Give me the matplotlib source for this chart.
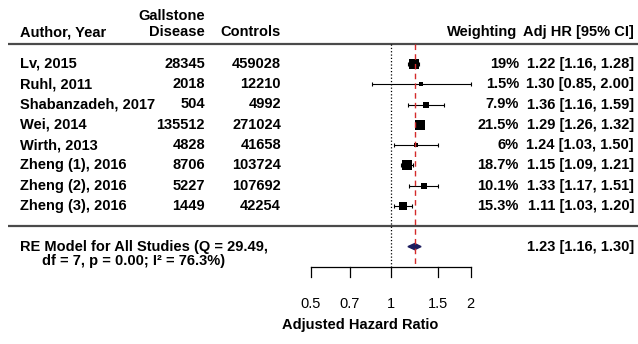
import matplotlib
matplotlib.use("Agg")
import matplotlib.pyplot as plt
import numpy as np

plt.rcParams['font.family'] = ['Liberation Sans', 'DejaVu Sans']

# study data
authors = ["Lv, 2015", "Ruhl, 2011", "Shabanzadeh, 2017", "Wei, 2014",
           "Wirth, 2013", "Zheng (1), 2016", "Zheng (2), 2016", "Zheng (3), 2016"]
cases = [28345, 2018, 504, 135512, 4828, 8706, 5227, 1449]
controls = [459028, 12210, 4992, 271024, 41658, 103724, 107692, 42254]
weights = [19, 1.5, 7.9, 21.5, 6, 18.7, 10.1, 15.3]
hr = [1.22, 1.30, 1.36, 1.29, 1.24, 1.15, 1.33, 1.11]
lo = [1.16, 0.85, 1.16, 1.26, 1.03, 1.09, 1.17, 1.03]
hi = [1.28, 2.00, 1.59, 1.32, 1.50, 1.21, 1.51, 1.20]

# pooled estimate
re_est, re_lo, re_hi = 1.23, 1.16, 1.30
re_q, re_df, re_p, re_i2 = 29.49, 7, 0.00, 76.3

xticks = [0.5, 0.7, 1, 1.5, 2]
xticklabels = ["0.5", "0.7", "1", "1.5", "2"]

W, H = 638, 344
fig = plt.figure(figsize=(W / 100, H / 100), dpi=100)
ax = fig.add_axes([0, 0, 1, 1])
ax.set_xscale('log')
ax.axis('off')

# map pixels -> log axis (0.5 at px 311, 2 at px 470.7)
ppd = (470.7 - 311) / (np.log10(2) - np.log10(0.5))
ax.set_xlim(10 ** (np.log10(0.5) - 311 / ppd), 10 ** (np.log10(2) + (W - 470.7) / ppd))
row_h = 20.3
y0 = 226.3
ax.set_ylim((y0 - H) / row_h, y0 / row_h)

tr = ax.get_yaxis_transform()
fs = 10.5
bold = dict(fontsize=fs, fontweight='bold', va='center', transform=tr)


def px(x):
    return x / W


k = len(authors)
rows = np.arange(k, 0, -1)

# header
ax.text(px(20), 9.57, "Author, Year", ha='left', **bold)
ax.text(px(205), 10.36, "Gallstone", ha='right', **bold)
ax.text(px(205), 9.57, "Disease", ha='right', **bold)
ax.text(px(281), 9.57, "Controls", ha='right', **bold)
ax.text(px(517), 9.57, "Weighting", ha='right', **bold)
ax.text(px(634), 9.57, "Adj HR [95% CI]", ha='right', **bold)

# separator lines
for r in (k + 1, 0):
    ax.plot([px(8), 1], [r, r], color='#4a4a4a', lw=1.6, transform=tr,
            solid_capstyle='butt')

# reference lines
ax.plot([1, 1], [k + 1, -2], color='black', ls=':', lw=0.9)
ax.plot([re_est, re_est], [k + 1, -2], color='#d42a2a', ls=(0, (4, 3)), lw=1.0, zorder=5)

# study rows
wmin, wmax = min(weights), max(weights)
for i in range(k):
    r = rows[i]
    ax.text(px(20), r, authors[i], ha='left', **bold)
    ax.text(px(205), r, str(cases[i]), ha='right', **bold)
    ax.text(px(281), r, str(controls[i]), ha='right', **bold)
    ax.text(px(519), r, f"{weights[i]:g}%", ha='right', **bold)
    ax.text(px(634), r, f"{hr[i]:.2f} [{lo[i]:.2f}, {hi[i]:.2f}]", ha='right', **bold)
    ax.errorbar(hr[i], r, xerr=[[hr[i] - lo[i]], [hi[i] - hr[i]]], fmt='none',
                ecolor='black', elinewidth=0.8, capsize=1.6, capthick=0.8)
    cex = 0.5 + (weights[i] - wmin) / (wmax - wmin)
    ax.plot(hr[i], r, 's', color='black', ms=7.2 * cex / 1.5, mew=0)

# summary
ax.fill([re_lo, re_est, re_hi, re_est], [-1, -0.85, -1, -1.15], color='#1c1c5e', zorder=4)
ax.text(px(20), -1, f"RE Model for All Studies (Q = {re_q:.2f},", ha='left', **bold)
ax.text(px(42), -1.71, f"df = {re_df}, p = {re_p:.2f}; I\u00b2 = {re_i2}%)", ha='left', **bold)
ax.text(px(634), -1, f"{re_est:.2f} [{re_lo:.2f}, {re_hi:.2f}]", ha='right', **bold)

# x axis
ax.plot([xticks[0], xticks[-1]], [-2, -2], color='black', lw=0.9)
for t, lab in zip(xticks, xticklabels):
    ax.plot([t, t], [-2, -2.5], color='black', lw=0.9)
    ax.text(t, -3.83, lab, ha='center', va='center', fontsize=fs)
ax.text(px(360), -4.87, "Adjusted Hazard Ratio", ha='center', **bold)

fig.savefig("out.png", dpi=100)
